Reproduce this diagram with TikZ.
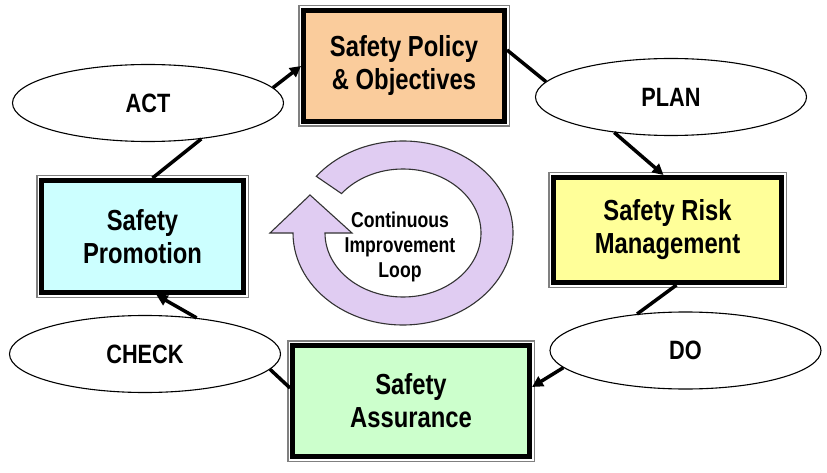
\documentclass[tikz,border=0pt]{standalone}
\usepackage{fontspec}
\newfontfamily\cyclefont[FakeStretch=0.82]{Liberation Sans}
\usepackage{tikz}
\usetikzlibrary{shapes.geometric,arrows.meta,calc}

\definecolor{policyfill}{RGB}{250,204,156}
\definecolor{riskfill}{RGB}{255,255,153}
\definecolor{promofill}{RGB}{204,255,255}
\definecolor{assurfill}{RGB}{204,255,204}
\definecolor{loopfill}{RGB}{224,204,242}

\tikzset{
  % --- the four pillars ---------------------------------------------------
  pillar/.style={rectangle,draw=black,line width=5pt,inner sep=0pt,
                 preaction={draw=black!50,line width=11pt},
                 preaction={draw=white,line width=8pt},
                 align=center,
                 font=\cyclefont\bfseries\fontsize{29}{33}\selectfont},
  % --- the PDCA phases ----------------------------------------------------
  phase/.style={ellipse,draw=black,line width=1.1pt,fill=white,inner sep=0pt,
                minimum width=271pt,minimum height=77pt,
                font=\cyclefont\bfseries\fontsize{26.5}{30}\selectfont},
  % --- connectors ---------------------------------------------------------
  link/.style={black,line width=3.5pt},
  flow/.style={link,-{Triangle[length=11pt,width=11pt]}},
  % --- the loop in the middle ---------------------------------------------
  hubring/.style={fill=loopfill,draw=black!80,line width=1.1pt},
  hubtext/.style={align=center,inner sep=0pt,
                  font=\cyclefont\bfseries\fontsize{21.5}{25}\selectfont},
}

\begin{document}
\begin{tikzpicture}[x=1pt,y=-1pt]

  \fill[white] (0,0) rectangle (827,473);
  \useasboundingbox (0,0) rectangle (827,473);

  % ---- the four boxes ----
  \node[pillar,fill=policyfill,minimum width=201pt,minimum height=111pt]
        (policy) at (404,66) {Safety Policy\\\& Objectives};
  \node[pillar,fill=riskfill,minimum width=228pt,minimum height=105pt]
        (risk) at (667.5,230) {Safety Risk\\Management};
  \node[pillar,fill=assurfill,minimum width=237pt,minimum height=111pt]
        (assurance) at (411,401) {Safety\\Assurance};
  \node[pillar,fill=promofill,minimum width=202pt,minimum height=112pt]
        (promotion) at (142.5,236.5) {Safety\\Promotion};

  % ---- the phases ----
  \node[phase] (act)   at (148,103)     {ACT};
  \node[phase] (plan)  at (671,97)      {PLAN};
  \node[phase] (doit)  at (685.5,350.5) {DO};
  \node[phase] (check) at (145,354)     {CHECK};

  % ---- the cycle ----
  \draw[link] ([xshift=10pt]promotion.north) -- (act.-34);
  \draw[flow] (act.7) -- (policy.west);
  \draw[link] ([yshift=16pt]policy.east) -- (plan.173);
  \draw[flow] (plan.-148) -- ([xshift=-4pt]risk.north);
  \draw[link] ([xshift=9pt]risk.south) -- (doit.143);
  \draw[flow] (doit.-172) -- ([yshift=14pt]assurance.east);
  \draw[link] ([yshift=13pt]assurance.west) -- (check.-7);
  \draw[flow] (check.35) -- ([xshift=14pt]promotion.south);

  % ---- continuous improvement loop ----
  \coordinate (hub) at (403,233);
  \draw[hubring] (hub) ++(142:110pt and 92pt)
        arc[start angle=142,end angle=-180,x radius=110pt,y radius=92pt]
        -- (270,233) -- (310,195) -- (352,233)
        -- ($(hub)+(180:78pt and 64pt)$)
        arc[start angle=180,end angle=502,x radius=78pt,y radius=64pt]
        -- cycle;
  \node[hubtext] (hubtxt) at (400,247) {Continuous\\Improvement\\Loop};
\end{tikzpicture}
\end{document}
